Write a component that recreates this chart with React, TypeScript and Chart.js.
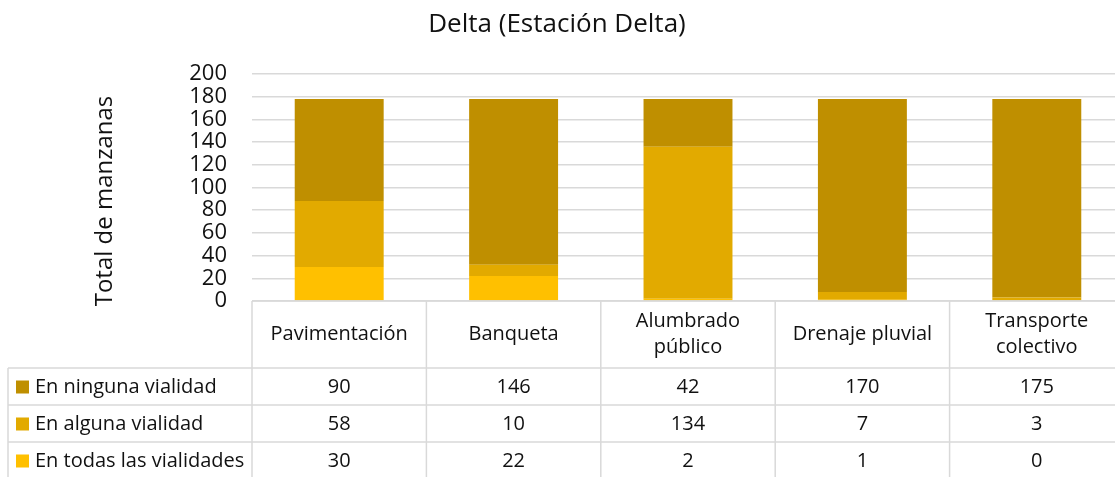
import React, { useEffect, useRef } from "react";
import { Chart, registerables } from "chart.js";

Chart.register(...registerables);

const chartTitle = "Delta (Estación Delta)";
const yAxisTitle = "Total de manzanas";
const categories: (string | string[])[] = [
  "Pavimentación",
  "Banqueta",
  ["Alumbrado", "público"],
  "Drenaje pluvial",
  ["Transporte", "colectivo"],
];
const seriesNames = ["En ninguna vialidad", "En alguna vialidad", "En todas las vialidades"];
const enNinguna = [90, 146, 42, 170, 175];
const enAlguna = [58, 10, 134, 7, 3];
const enTodas = [30, 22, 2, 1, 0];
const seriesColors = ["#BF8F00", "#E2AA00", "#FFC000"];
const yMin = 0;
const yMax = 200;
const yStep = 20;

const FONT = "'Open Sans', 'Noto Sans', sans-serif";
const GRID = "#D9D9D9";
const TEXT = "#111111";

const tablePlugin = {
  id: "tablePlugin",
  afterDraw(chart: any) {
    const { ctx, chartArea } = chart;
    const xs = chart.scales.x;
    const left = chartArea.left;
    const right = chartArea.right;
    const top = chartArea.bottom;
    const n = categories.length;
    const colW = (right - left) / n;
    const headerBottom = top + 67;
    const rowH = 37;
    const rowsY = [headerBottom, headerBottom + rowH, headerBottom + 2 * rowH, headerBottom + 3 * rowH];
    const tableLeft = 8;
    const tableBottom = rowsY[3];

    ctx.save();
    // title
    ctx.fillStyle = TEXT;
    ctx.font = `26px ${FONT}`;
    ctx.textAlign = "center";
    ctx.textBaseline = "middle";
    ctx.fillText(chartTitle, 557, 25);

    // y axis title
    ctx.save();
    ctx.translate(105, 201);
    ctx.rotate(-Math.PI / 2);
    ctx.font = `24px ${FONT}`;
    ctx.fillText(yAxisTitle, 0, 0);
    ctx.restore();

    // table lines
    ctx.strokeStyle = GRID;
    ctx.lineWidth = 1.5;
    ctx.beginPath();
    ctx.moveTo(left, top);
    ctx.lineTo(right, top);
    for (const y of rowsY) {
      ctx.moveTo(tableLeft, y);
      ctx.lineTo(right, y);
    }
    for (let i = 0; i <= n; i++) {
      const x = left + i * colW;
      ctx.moveTo(x, top);
      ctx.lineTo(x, tableBottom);
    }
    ctx.moveTo(tableLeft, headerBottom);
    ctx.lineTo(tableLeft, tableBottom);
    ctx.stroke();

    // header labels
    ctx.fillStyle = TEXT;
    ctx.font = `20px ${FONT}`;
    ctx.textAlign = "center";
    ctx.textBaseline = "middle";
    const headerMid = (top + headerBottom) / 2;
    categories.forEach((c, i) => {
      const cx = xs.getPixelForValue(i);
      const lines = Array.isArray(c) ? c : [c];
      const lh = 26.5;
      lines.forEach((ln, k) => {
        const y = headerMid + (k - (lines.length - 1) / 2) * lh;
        ctx.fillText(ln, cx, y);
      });
    });

    // rows
    const rowData = [enNinguna, enAlguna, enTodas];
    rowData.forEach((vals, r) => {
      const cy = rowsY[r] + rowH / 2 + 0.5;
      ctx.fillStyle = seriesColors[r];
      ctx.fillRect(16, cy - 6.5, 13, 13);
      ctx.fillStyle = TEXT;
      ctx.textAlign = "left";
      ctx.fillText(seriesNames[r], 35, cy);
      ctx.textAlign = "center";
      vals.forEach((v, i) => {
        ctx.fillText(String(v), xs.getPixelForValue(i), cy);
      });
    });
    ctx.restore();
  },
};

export default function App() {
  const ref = useRef<HTMLCanvasElement | null>(null);
  useEffect(() => {
    if (!ref.current) return;
    const chart = new Chart(ref.current, {
      type: "bar",
      data: {
        labels: categories.map((c) => (Array.isArray(c) ? c.join(" ") : c)),
        datasets: [
          { label: seriesNames[2], data: enTodas, backgroundColor: seriesColors[2] },
          { label: seriesNames[1], data: enAlguna, backgroundColor: seriesColors[1] },
          { label: seriesNames[0], data: enNinguna, backgroundColor: seriesColors[0] },
        ],
      },
      options: {
        responsive: false,
        animation: false,
        devicePixelRatio: 1,
        layout: { padding: { top: 74, bottom: 176, left: 0, right: 2 } },
        datasets: {
          bar: { categoryPercentage: 1, barPercentage: 0.51, borderWidth: 0 },
        },
        plugins: {
          legend: { display: false },
          title: { display: false },
          tooltip: { enabled: false },
        },
        scales: {
          x: { display: false, stacked: true },
          y: {
            stacked: true,
            min: yMin,
            max: yMax,
            ticks: {
              stepSize: yStep,
              autoSkip: false,
              padding: 25,
              color: TEXT,
              font: { family: FONT, size: 22, lineHeight: 1 },
            },
            grid: { color: GRID, lineWidth: 1.5, drawTicks: false },
            border: { display: false },
            afterFit(scale: any) {
              scale.width = 252;
            },
          },
        },
      },
      plugins: [tablePlugin],
    });
    return () => chart.destroy();
  }, []);
  return (
    <div style={{ position: "fixed", left: 0, top: 0, width: 1115, height: 477, overflow: "hidden", background: "#fff" }}>
      <canvas ref={ref} width={1126} height={477} style={{ display: "block" }} />
    </div>
  );
}
